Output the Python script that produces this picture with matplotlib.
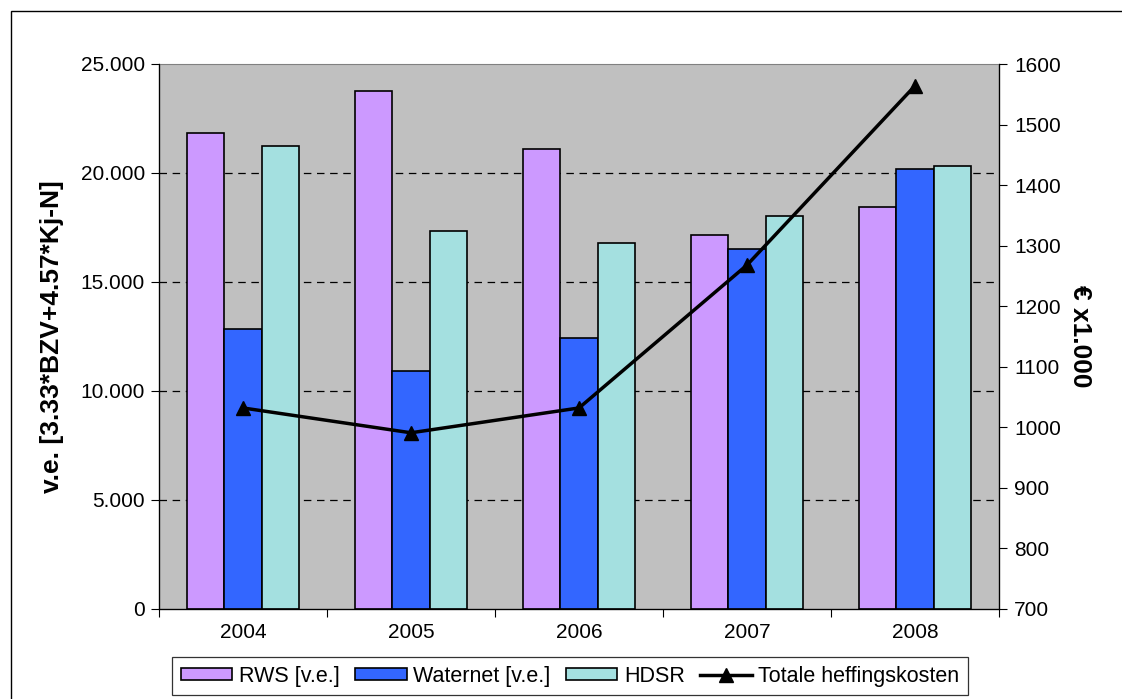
import numpy as np
import matplotlib.pyplot as plt
from matplotlib.patches import Rectangle
from matplotlib.lines import Line2D

plt.rcParams['font.family'] = ['Liberation Sans', 'DejaVu Sans']

# data
jaren = ['2004', '2005', '2006', '2007', '2008']
rws = [21830, 23760, 21090, 17160, 18430]
waternet = [12830, 10920, 12450, 16500, 20180]
hdsr = [21250, 17320, 16790, 18040, 20340]
heffing = [1032, 991, 1032, 1268, 1564]  # euro x1000

kleur_rws = '#CC99FF'
kleur_waternet = '#3366FF'
kleur_hdsr = '#A4E0E0'

fig = plt.figure(figsize=(11.22, 6.99), dpi=100)
ax = fig.add_axes([159/1122, 1 - 609/699, (999-159)/1122, (609-64)/699])
ax.set_facecolor('#C0C0C0')

x = np.arange(len(jaren))
bw = 0.222
ax.bar(x - bw, rws, bw, color=kleur_rws, edgecolor='black', linewidth=1.2, zorder=2)
ax.bar(x, waternet, bw, color=kleur_waternet, edgecolor='black', linewidth=1.2, zorder=2)
ax.bar(x + bw, hdsr, bw, color=kleur_hdsr, edgecolor='black', linewidth=1.2, zorder=2)

ax.set_xlim(-0.5, len(jaren) - 0.5)
ax.set_ylim(0, 25000)
ax.set_yticks(np.arange(0, 25001, 5000))
ax.set_yticklabels(['0', '5.000', '10.000', '15.000', '20.000', '25.000'])
for yv in [5000, 10000, 15000, 20000]:
    ax.axhline(yv, color='black', linewidth=0.9, linestyle=(0, (6, 4.5)), zorder=1)

# category labels between the boundary ticks
ax.set_xticks(np.arange(-0.5, len(jaren), 1.0))
ax.set_xticklabels([])
ax.set_xticks(x, minor=True)
ax.set_xticklabels(jaren, minor=True)
ax.tick_params(axis='x', which='major', length=6, width=0.8, direction='out')
ax.tick_params(axis='x', which='minor', length=0, pad=10, labelsize=15)
ax.tick_params(axis='y', length=6, width=0.8, direction='out', labelsize=15, pad=4)

ax.spines['top'].set_color('#808080')
for s in ['left', 'bottom', 'right']:
    ax.spines[s].set_color('black')
    ax.spines[s].set_linewidth(0.9)

ax.set_ylabel('v.e. [3.33*BZV+4.57*Kj-N]', fontsize=19, fontweight='bold', labelpad=12)

ax2 = ax.twinx()
ax2.plot(x, heffing, color='black', linewidth=2.5, marker='^', markersize=10, zorder=5)
ax2.set_ylim(700, 1600)
ax2.set_yticks(np.arange(700, 1601, 100))
ax2.tick_params(axis='y', length=6, width=0.8, direction='out', labelsize=15, pad=5)
ax2.spines['right'].set_color('black')
ax2.spines['top'].set_visible(False)
ax2.set_ylabel('€ x1.000', fontsize=19, fontweight='bold', rotation=270, labelpad=22)

# outer chart border
fig.patches.append(Rectangle((11/1122, -0.1), 1.2, 1 - 11/699 + 0.1, transform=fig.transFigure,
                             fill=False, edgecolor='black', linewidth=1.0))

handles = [
    Rectangle((0, 0), 1, 1, facecolor=kleur_rws, edgecolor='black', linewidth=1.2),
    Rectangle((0, 0), 1, 1, facecolor=kleur_waternet, edgecolor='black', linewidth=1.2),
    Rectangle((0, 0), 1, 1, facecolor=kleur_hdsr, edgecolor='black', linewidth=1.2),
    Line2D([], [], color='black', linewidth=2.5, marker='^', markersize=10),
]
labels = ['RWS [v.e.]', 'Waternet [v.e.]', 'HDSR', 'Totale heffingskosten']
leg = fig.legend(handles, labels, loc='upper left',
                 bbox_to_anchor=(172/1122, 1 - 657/699, (968-172)/1122, 0.0), mode='expand',
                 ncol=4, fontsize=15.5, frameon=True, fancybox=False, handlelength=2.4,
                 handleheight=0.55, handletextpad=0.3, columnspacing=0.3, borderpad=0.4,
                 borderaxespad=0)
leg.get_frame().set_edgecolor('black')
leg.get_frame().set_linewidth(0.9)

fig.savefig('out.png', dpi=100)
